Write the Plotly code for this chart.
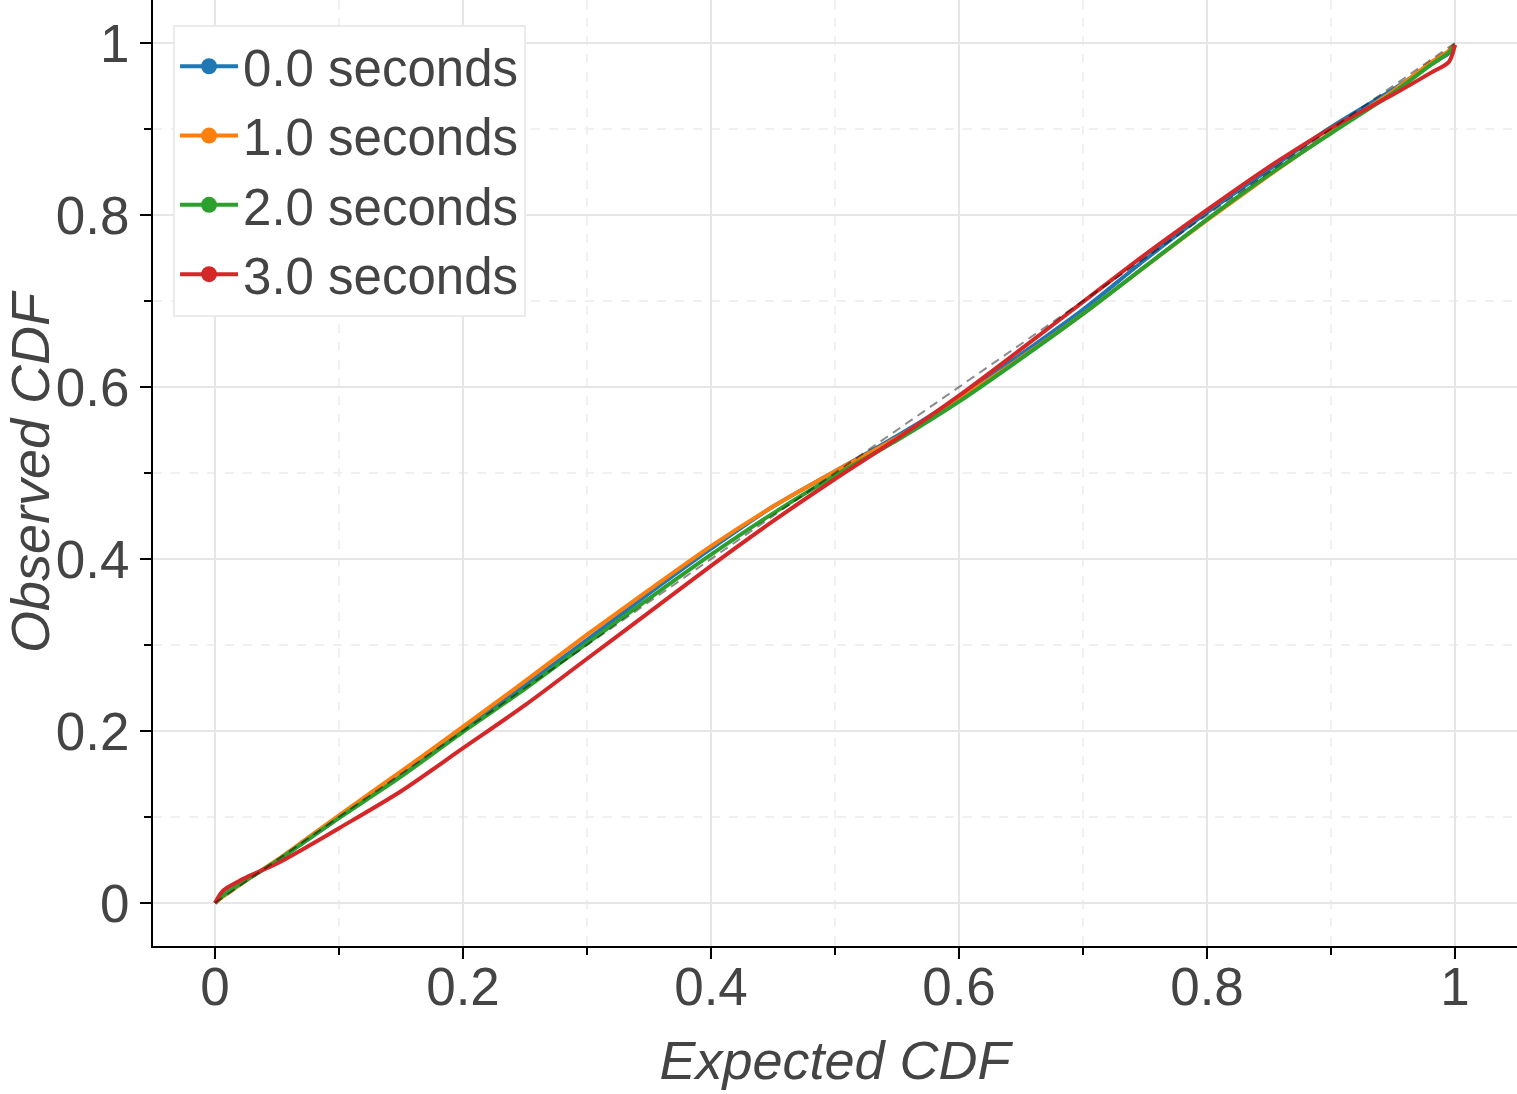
import plotly.graph_objects as go

# expected CDF positions shared by every series
expected = [0, 0.005, 0.01, 0.02, 0.03, 0.05, 0.075, 0.1, 0.15, 0.2, 0.25, 0.3, 0.35,
            0.4, 0.45, 0.5, 0.55, 0.6, 0.65, 0.7, 0.75, 0.8, 0.85, 0.9, 0.95, 0.98,
            0.995, 1.0]

obs_0s = [0, 0.007, 0.012, 0.022, 0.031, 0.049, 0.074, 0.099, 0.148, 0.201, 0.253, 0.306,
          0.360, 0.412, 0.461, 0.502, 0.543, 0.588, 0.638, 0.690, 0.748, 0.803, 0.853,
          0.902, 0.946, 0.975, 0.988, 0.997]
obs_1s = [0, 0.006, 0.011, 0.021, 0.031, 0.050, 0.076, 0.102, 0.153, 0.205, 0.258, 0.312,
          0.364, 0.415, 0.461, 0.502, 0.541, 0.586, 0.634, 0.685, 0.740, 0.794, 0.846,
          0.896, 0.944, 0.977, 0.991, 0.998]
obs_2s = [0, 0.007, 0.012, 0.022, 0.031, 0.049, 0.074, 0.099, 0.147, 0.199, 0.249, 0.302,
          0.354, 0.405, 0.453, 0.497, 0.538, 0.583, 0.633, 0.685, 0.740, 0.795, 0.847,
          0.895, 0.942, 0.974, 0.989, 0.997]
obs_3s = [0, 0.012, 0.018, 0.026, 0.033, 0.046, 0.066, 0.087, 0.130, 0.180, 0.230, 0.284,
          0.338, 0.392, 0.444, 0.493, 0.540, 0.590, 0.644, 0.699, 0.754, 0.806, 0.856,
          0.901, 0.940, 0.965, 0.978, 0.998]

labels = ["0.0 seconds", "1.0 seconds", "2.0 seconds", "3.0 seconds"]
colors = ["#1f77b4", "#ff7f0e", "#2ca02c", "#d62728"]
series = [obs_0s, obs_1s, obs_2s, obs_3s]

font = "Liberation Sans, Arial, Helvetica, sans-serif"
txt = "#444444"

fig = go.Figure()

for name, col, ys in zip(labels, colors, series):
    fig.add_trace(go.Scatter(x=expected, y=ys, mode="lines", name=name,
                             line=dict(color=col, width=4, shape="spline", smoothing=0.8),
                             showlegend=False, hoverinfo="skip"))

# reference diagonal
fig.add_trace(go.Scatter(x=[0, 1], y=[0, 1], mode="lines", showlegend=False,
                         line=dict(color="rgba(0,0,0,0.45)", width=2, dash="9px,6px")))

# legend entries (line + dot)
for name, col in zip(labels, colors):
    fig.add_trace(go.Scatter(x=[None], y=[None], mode="lines+markers", name=name,
                             line=dict(color=col, width=4), marker=dict(color=col, size=16)))

axis_common = dict(
    showline=True, linecolor="black", linewidth=2,
    ticks="outside", ticklen=11, tickwidth=2, tickcolor="black",
    dtick=0.2, tick0=0, automargin=False,
    showgrid=True, gridcolor="#e6e6e6", gridwidth=2,
    zeroline=False,
    tickfont=dict(family=font, size=53, color=txt),
    minor=dict(dtick=0.1, ticks="outside", ticklen=7, tickwidth=1.5, tickcolor="black",
               showgrid=True, gridcolor="#f0f0f0", gridwidth=1.5, griddash="dash"),
)

fig.update_layout(
    width=1517, height=1094,
    margin=dict(l=153, r=0, t=0, b=148),
    plot_bgcolor="white", paper_bgcolor="white",
    xaxis=dict(range=[-0.05, 1.05], **axis_common, ticklabelstandoff=-18,
               title=dict(text="Expected CDF", standoff=27,
                          font=dict(family=font, size=54, color=txt, style="italic"))),
    yaxis=dict(range=[-0.05, 1.05], **axis_common,
               title=dict(text="Observed CDF", standoff=32,
                          font=dict(family=font, size=54, color=txt, style="italic"))),
    legend=dict(x=0.0147, y=0.974, xanchor="left", yanchor="top",
                bgcolor="white", bordercolor="#ebebeb", borderwidth=2,
                font=dict(family=font, size=51, color=txt),
                itemwidth=58, tracegroupgap=0),
    showlegend=True,
)

fig.write_html("out.html", config={"displayModeBar": False},
               post_script="document.body.style.margin='0';")
